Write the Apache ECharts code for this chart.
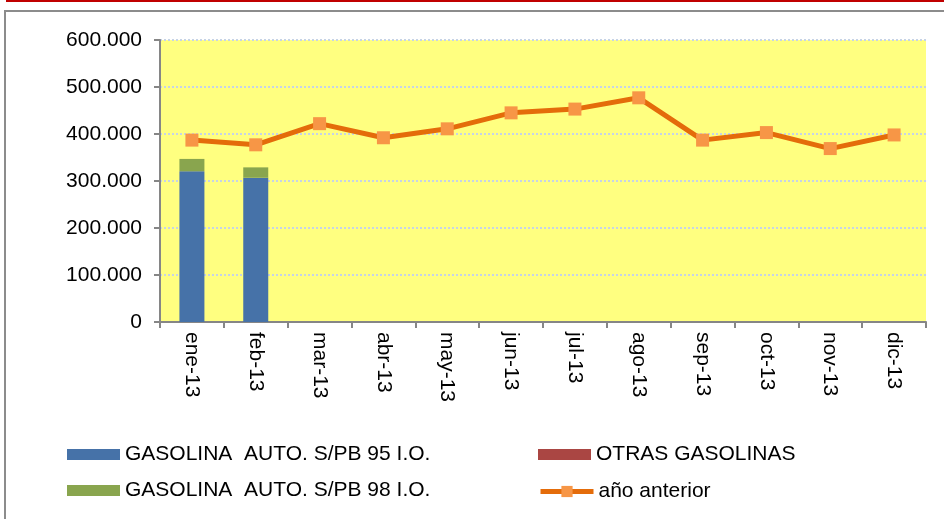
<!DOCTYPE html>
<html>
<head>
<meta charset="utf-8">
<script src="https://cdn.jsdelivr.net/npm/echarts@6/dist/echarts.min.js"></script>
<style>
  html, body { margin: 0; padding: 0; background: #ffffff; }
  #chart { width: 944px; height: 519px; }
</style>
</head>
<body>
<div id="chart"></div>
<script>
// Monthly categories
const months = ['ene-13', 'feb-13', 'mar-13', 'abr-13', 'may-13', 'jun-13',
                'jul-13', 'ago-13', 'sep-13', 'oct-13', 'nov-13', 'dic-13'];

// Series values (only January and February reported for the current year)
const gas95 = [321000, 307000, null, null, null, null, null, null, null, null, null, null];
const otrasGasolinas = [0, 0, null, null, null, null, null, null, null, null, null, null];
const gas98 = [26000, 22000, null, null, null, null, null, null, null, null, null, null];
const previousYear = [387000, 377000, 422000, 392000, 411000, 445000,
                      453000, 477000, 387000, 403000, 369000, 398000];

// Value axis range
const yMin = 0;
const yMax = 600000;
const yStep = 100000;

const seriesNames = ['GASOLINA  AUTO. S/PB 95 I.O.', 'OTRAS GASOLINAS',
                     'GASOLINA  AUTO. S/PB 98 I.O.', 'año anterior'];

const FONT = 'Liberation Sans, Arial, sans-serif';

function thousands(v) {
  return String(Math.round(v)).replace(/\B(?=(\d{3})+(?!\d))/g, '.');
}

const chart = echarts.init(document.getElementById('chart'), null, { renderer: 'canvas' });

const legendText = { fontFamily: FONT, fontSize: 21, color: '#000000' };
function legendAt(name, left, top, extra) {
  return Object.assign({
    data: [name], left: left, top: top, orient: 'horizontal',
    icon: 'rect', itemWidth: 53, itemHeight: 11, itemGap: 4, padding: 0,
    selectedMode: false, textStyle: legendText
  }, extra || {});
}

chart.setOption({
  animation: false,
  backgroundColor: '#ffffff',
  graphic: [
    { type: 'rect', shape: { x: 6, y: 0, width: 940, height: 2 },
      style: { fill: '#C00000' }, silent: true },
    { type: 'rect', shape: { x: 5, y: 11, width: 960, height: 540 },
      style: { fill: 'none', stroke: '#8C8C8C', lineWidth: 2 }, silent: true }
  ],
  legend: [
    legendAt(seriesNames[0], 67, 444),
    legendAt(seriesNames[1], 538, 444),
    legendAt(seriesNames[2], 67, 480),
    legendAt(seriesNames[3], 538, 481, {
      icon: null, itemWidth: 53, itemHeight: 14,
      lineStyle: { width: 5, color: '#E46C0A' },
      itemStyle: { color: '#F79646' }
    })
  ],
  grid: { left: 160, right: 18, top: 40, bottom: 197, containLabel: false,
          show: true, backgroundColor: '#FFFF80', borderWidth: 0 },
  xAxis: {
    type: 'category',
    data: months,
    boundaryGap: true,
    axisLine: { lineStyle: { color: '#868686', width: 2 } },
    axisTick: { show: true, alignWithLabel: false, length: 6,
                lineStyle: { color: '#868686', width: 2 } },
    axisLabel: { rotate: -90, margin: 10, fontFamily: FONT, fontSize: 21,
                 color: '#000000', interval: 0 },
    splitLine: { show: false }
  },
  yAxis: {
    type: 'value',
    min: yMin, max: yMax, interval: yStep,
    axisLine: { show: true, lineStyle: { color: '#868686', width: 2 } },
    axisTick: { show: true, length: 6, lineStyle: { color: '#868686', width: 2 } },
    axisLabel: { margin: 18, fontFamily: FONT, fontSize: 21, color: '#000000',
                 formatter: thousands },
    splitLine: { show: true, lineStyle: { color: '#C6D3E6', width: 2, type: [2, 2] } }
  },
  series: [
    { name: seriesNames[0], type: 'bar', stack: 'gas', data: gas95, barWidth: 25,
      itemStyle: { color: '#4672A8' } },
    { name: seriesNames[1], type: 'bar', stack: 'gas', data: otrasGasolinas, barWidth: 25,
      itemStyle: { color: '#AA4643' } },
    { name: seriesNames[2], type: 'bar', stack: 'gas', data: gas98, barWidth: 25,
      itemStyle: { color: '#89A54E' } },
    { name: seriesNames[3], type: 'line', data: previousYear,
      symbol: 'rect', symbolSize: 13,
      lineStyle: { color: '#E46C0A', width: 5 },
      itemStyle: { color: '#F79646' }, z: 5 }
  ]
});
</script>
</body>
</html>
